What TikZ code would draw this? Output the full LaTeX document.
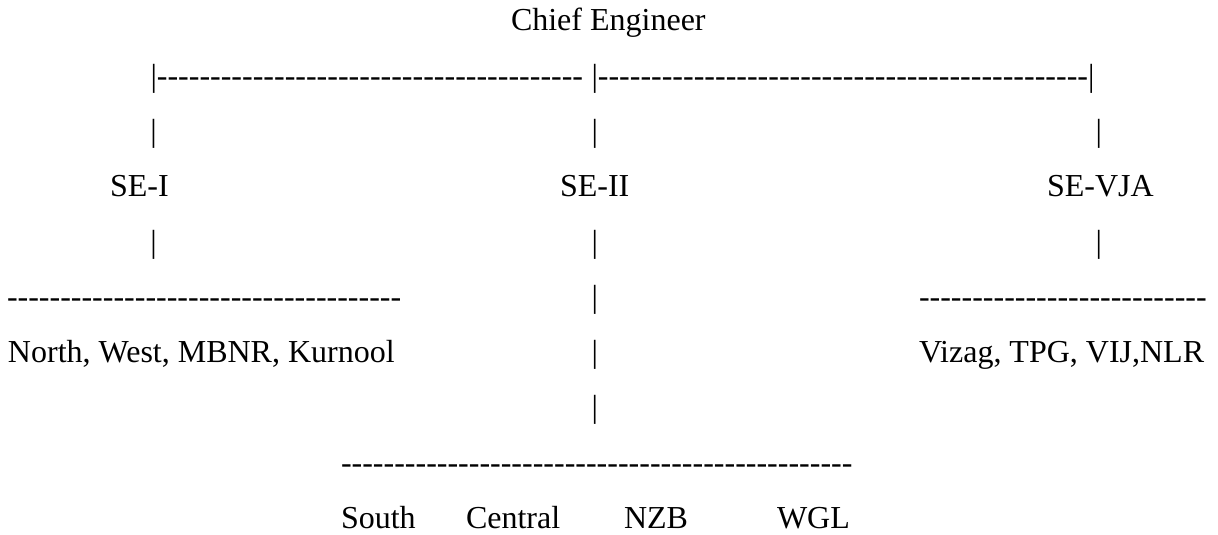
\documentclass[tikz,border=0pt]{standalone}
\usepackage{fontspec}
\setmainfont{Liberation Serif}
\newcount\hycnt
\newcommand\hyrep[1]{\hycnt=#1\relax\loop\ifnum\hycnt>0 -{}\advance\hycnt by -1\relax\repeat}
\begin{document}
\begin{tikzpicture}[x=1pt,y=-1pt,
  txt/.style={inner sep=0pt,outer sep=0pt,font=\fontsize{32}{38}\selectfont,anchor=base west},
  bar/.style={txt,anchor=base}]
\useasboundingbox[fill=white] (0,0) rectangle (1218,535);
% row 0
\node[txt] (ce) at (511,30.5) {Chief Engineer};
% row 1
\node[txt] (topL) at (150.5,86) {|\hyrep{40}};
\node[txt] (topR) at (591.5,86) {|\hyrep{46}|};
% row 2
\node[bar] (b2a) at (153.7,141.3) {|};
\node[bar] (b2b) at (594.7,141.3) {|};
\node[bar] (b2c) at (1098.7,141.3) {|};
% row 3
\node[txt] (se1) at (110,196.6) {SE-I};
\node[txt] (se2) at (560,196.6) {SE-II};
\node[txt] (se3) at (1047,196.6) {SE-VJA};
% row 4
\node[bar] (b4a) at (153.7,252) {|};
\node[bar] (b4b) at (594.7,252) {|};
\node[bar] (b4c) at (1098.7,252) {|};
% row 5
\node[txt] (dL) at (7,307.2) {\hyrep{37}};
\node[bar] (b5) at (594.7,307.2) {|};
\node[txt] (dR) at (919,307.2) {\hyrep{27}};
% row 6
\node[txt] (nw) at (8,362.5) {North, West, MBNR, Kurnool};
\node[bar] (b6) at (594.7,362.5) {|};
\node[txt] (vz) at (919,362.5) {Vizag, TPG, VIJ,NLR};
% row 7
\node[bar] (b7) at (594.7,417.8) {|};
% row 8
\node[txt] (dB) at (341,473.1) {\hyrep{48}};
% row 9
\node[txt] (s) at (341,528.4) {South};
\node[txt] (c) at (466,528.4) {Central};
\node[txt] (n) at (624,528.4) {NZB};
\node[txt] (w) at (777,528.4) {WGL};
\end{tikzpicture}
\end{document}
